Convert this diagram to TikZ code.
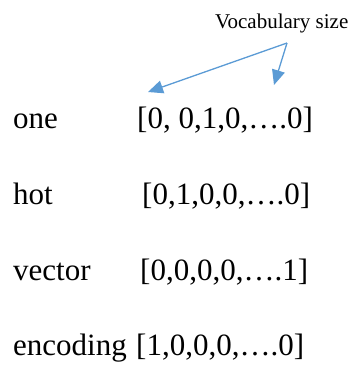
\documentclass[tikz,border=0pt]{standalone}
\usepackage{fontspec}
\setmainfont{Liberation Serif}
\usetikzlibrary{arrows.meta}
\definecolor{pointer}{HTML}{5B9BD5}
\tikzset{
  word/.style={anchor=base west, inner sep=0pt, font=\fontsize{31}{37}\selectfont},
  vec/.style={anchor=base west, inner sep=0pt, font=\fontsize{31}{37}\selectfont},
  caption/.style={anchor=base west, inner sep=0pt, font=\fontsize{21}{25}\selectfont},
  pointer/.style={draw=pointer, line width=1.3pt, -{Triangle[length=15pt,width=13pt]}, fill=pointer}
}
\begin{document}
\begin{tikzpicture}[x=1pt,y=-1pt]
\useasboundingbox (0,0) rectangle (353,365);
% caption and its two pointers
\node[caption] (vocab) at (215,28) {Vocabulary size};
\coordinate (src) at (287,43);
\coordinate (tipA) at (148,92);
\coordinate (tipB) at (274,85);
\draw[pointer] (src) -- (tipA);
\draw[pointer] (src) -- (tipB);
% words and their one-hot vectors
\node[word] (w1) at (13,128) {one};
\node[vec]  (v1) at (137,128) {[0, 0,1,0,….0]};
\node[word] (w2) at (13,204) {hot};
\node[vec]  (v2) at (142,204) {[0,1,0,0,….0]};
\node[word] (w3) at (13,280) {vector};
\node[vec]  (v3) at (140,280) {[0,0,0,0,….1]};
\node[word] (w4) at (13,355) {encoding};
\node[vec, anchor=base west] (v4) at ([xshift=9pt]w4.base east) {[1,0,0,0,….0]};
\end{tikzpicture}
\end{document}
